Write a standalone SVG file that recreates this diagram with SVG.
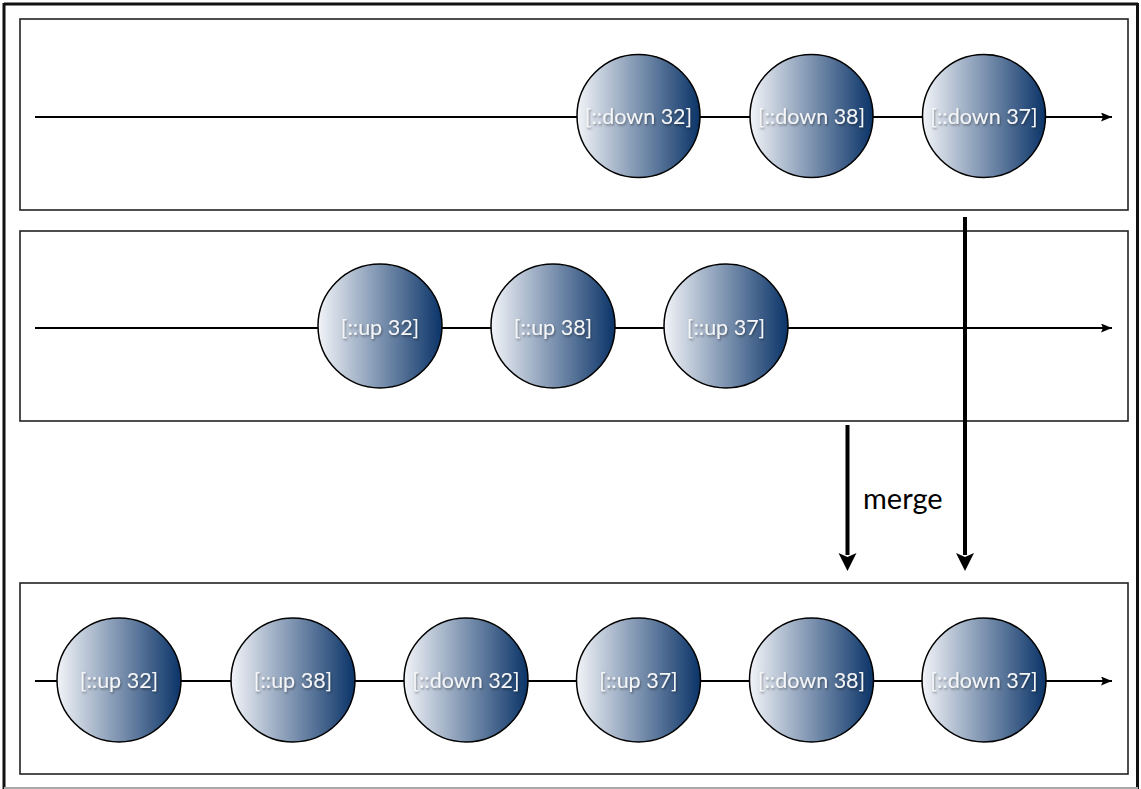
<svg xmlns="http://www.w3.org/2000/svg" width="1141" height="789" viewBox="0 0 1141 789">
<defs>
<linearGradient id="g" x1="0" y1="0" x2="1" y2="0">
<stop offset="0" stop-color="#f2f4f8"/>
<stop offset="0.5" stop-color="#7d93b0"/>
<stop offset="1" stop-color="#0b3468"/>
</linearGradient>
<filter id="sh" x="-10%" y="-30%" width="120%" height="160%">
<feDropShadow dx="1" dy="1.5" stdDeviation="1" flood-color="#000" flood-opacity="0.4"/>
</filter>
<marker id="ah" viewBox="0 0 11 9" refX="11" refY="4.5" markerWidth="11" markerHeight="9" markerUnits="userSpaceOnUse" orient="auto">
<path d="M0,0 L11,4.5 L0,9 L2,4.5 z" fill="#000"/>
</marker>
</defs>
<style>
.panel{fill:#fff;stroke:#222;stroke-width:1.6}
.tl{stroke:#000;stroke-width:2;fill:none}
.n circle{fill:url(#g);stroke:#000;stroke-width:1.5}
.n text{font-family:Lato,"Open Sans",sans-serif;font-size:21.5px;fill:#f4f5f7;text-anchor:middle;filter:url(#sh)}
.big{stroke:#000;stroke-width:4;fill:none}
.lbl{font-family:Lato,"Open Sans",sans-serif;font-size:29px;fill:#000}
</style>
<rect width="1141" height="789" fill="#fff"/>
<g id="frame" fill="none">
<line x1="4" y1="4" x2="1138" y2="4" stroke="#111" stroke-width="3"/>
<line x1="4" y1="3" x2="4" y2="789" stroke="#111" stroke-width="3"/>
<line x1="1137.5" y1="3" x2="1137.5" y2="789" stroke="#111" stroke-width="3"/>
<line x1="4" y1="788" x2="1138" y2="788" stroke="#aaa" stroke-width="2"/>
</g>
<g id="panels">
<rect id="panel1" class="panel" x="20" y="19" width="1108" height="191"/>
<rect id="panel2" class="panel" x="20" y="231" width="1108" height="190"/>
<rect id="panel3" class="panel" x="20" y="583" width="1108" height="191"/>
</g>
<g id="connectors">
<line class="tl" x1="35" y1="117" x2="1112" y2="117" marker-end="url(#ah)"/>
<line class="tl" x1="35" y1="328" x2="1112" y2="328" marker-end="url(#ah)"/>
<line class="tl" x1="35" y1="681" x2="1112" y2="681" marker-end="url(#ah)"/>
</g>
<g id="n1a" class="n"><circle cx="638.5" cy="116" r="61.5"/><text x="638.5" y="123.5">[::down 32]</text></g>
<g id="n1b" class="n"><circle cx="811.5" cy="116" r="61.5"/><text x="811.5" y="123.5">[::down 38]</text></g>
<g id="n1c" class="n"><circle cx="984" cy="116" r="61.5"/><text x="984" y="123.5">[::down 37]</text></g>
<g id="n2a" class="n"><circle cx="380" cy="326" r="62"/><text x="380" y="334.5">[::up 32]</text></g>
<g id="n2b" class="n"><circle cx="553" cy="326" r="62"/><text x="553" y="334.5">[::up 38]</text></g>
<g id="n2c" class="n"><circle cx="726" cy="326" r="62"/><text x="726" y="334.5">[::up 37]</text></g>
<g id="n3a" class="n"><circle cx="119" cy="680" r="62"/><text x="119" y="687.5">[::up 32]</text></g>
<g id="n3b" class="n"><circle cx="293" cy="680" r="62"/><text x="293" y="687.5">[::up 38]</text></g>
<g id="n3c" class="n"><circle cx="466" cy="680" r="62"/><text x="466" y="687.5">[::down 32]</text></g>
<g id="n3d" class="n"><circle cx="638.5" cy="680" r="62"/><text x="638.5" y="687.5">[::up 37]</text></g>
<g id="n3e" class="n"><circle cx="811.5" cy="680" r="62"/><text x="811.5" y="687.5">[::down 38]</text></g>
<g id="n3f" class="n"><circle cx="984" cy="680" r="62"/><text x="984" y="687.5">[::down 37]</text></g>
<g id="merge-arrows">
<line class="big" x1="965" y1="217" x2="965" y2="555"/>
<path d="M956,553 L965,557 L974,553 L965,571 z" fill="#000"/>
<line class="big" x1="847.5" y1="425" x2="847.5" y2="555"/>
<path d="M838.5,553 L847.5,557 L856.5,553 L847.5,571 z" fill="#000"/>
<text class="lbl" x="863" y="509">merge</text>
</g>
</svg>
